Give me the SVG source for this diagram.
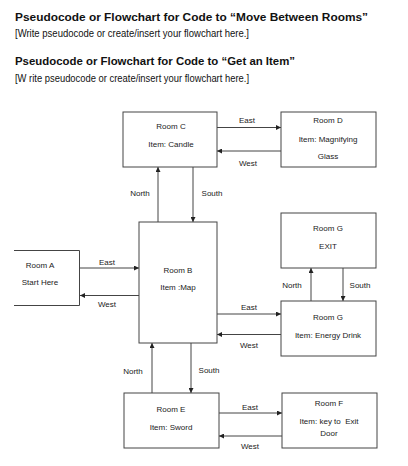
<svg xmlns="http://www.w3.org/2000/svg" width="408" height="466" viewBox="0 0 408 466">
<style>
.h{font-family:"Liberation Sans",Arial,sans-serif;font-size:11.8px;fill:#111}
.b{font-weight:bold}
.t{font-family:"Liberation Sans",Arial,sans-serif;font-size:8px;fill:#222;text-anchor:middle;white-space:pre}
.box{fill:#fff;stroke:#444;stroke-width:1}
.c line{stroke:#444;stroke-width:1;marker-end:url(#ah)}
</style>
<defs>
<marker id="ah" markerUnits="userSpaceOnUse" markerWidth="6" markerHeight="5" refX="5" refY="2.5" orient="auto">
<path d="M0,0 L5,2.5 L0,5 z" fill="#222"/>
</marker>
</defs>
<rect width="408" height="466" fill="#fff"/>
<g id="header">
<text class="h b" x="15" y="21" textLength="353" lengthAdjust="spacingAndGlyphs">Pseudocode or Flowchart for Code to “Move Between Rooms”</text>
<text class="h" x="15" y="36.5" textLength="234" lengthAdjust="spacingAndGlyphs">[Write pseudocode or create/insert your flowchart here.]</text>
<text class="h b" x="15" y="65" textLength="280" lengthAdjust="spacingAndGlyphs">Pseudocode or Flowchart for Code to “Get an Item”</text>
<text class="h" x="15" y="82" textLength="234" lengthAdjust="spacingAndGlyphs">[W rite pseudocode or create/insert your flowchart here.]</text>
</g>
<g id="connectors" class="c">
<line x1="217" y1="127.5" x2="281" y2="127.5"/>
<line x1="281" y1="151" x2="217" y2="151"/>
<line x1="158" y1="222" x2="158" y2="167"/>
<line x1="193" y1="167" x2="193" y2="222"/>
<line x1="80" y1="268" x2="139" y2="268"/>
<line x1="139" y1="295.5" x2="80" y2="295.5"/>
<line x1="217" y1="314" x2="281" y2="314"/>
<line x1="281" y1="334.5" x2="217" y2="334.5"/>
<line x1="311" y1="301" x2="311" y2="268"/>
<line x1="343" y1="268" x2="343" y2="301"/>
<line x1="152" y1="393" x2="152" y2="343"/>
<line x1="191" y1="343" x2="191" y2="393"/>
<line x1="219" y1="413" x2="282" y2="413"/>
<line x1="282" y1="436" x2="219" y2="436"/>
</g>
<g id="connector-labels">
<text class="t" x="247" y="122.5">East</text>
<text class="t" x="248" y="166">West</text>
<text class="t" x="140" y="196">North</text>
<text class="t" x="212" y="196">South</text>
<text class="t" x="107" y="265">East</text>
<text class="t" x="107" y="307">West</text>
<text class="t" x="249" y="310">East</text>
<text class="t" x="249" y="347.5">West</text>
<text class="t" x="292" y="288">North</text>
<text class="t" x="360" y="288">South</text>
<text class="t" x="133" y="373.5">North</text>
<text class="t" x="209" y="372.5">South</text>
<text class="t" x="250" y="410">East</text>
<text class="t" x="250" y="448.5">West</text>
</g>
<g id="roomC">
<rect class="box" x="123" y="112" width="94" height="55"/>
<text class="t" x="171" y="129">Room C</text>
<text class="t" x="171" y="147">Item: Candle</text>
</g>
<g id="roomD">
<rect class="box" x="281" y="112" width="95" height="55"/>
<text class="t" x="328" y="123">Room D</text>
<text class="t" x="328" y="141.5">Item: Magnifying</text>
<text class="t" x="328" y="159">Glass</text>
</g>
<g id="roomA">
<path class="box" d="M14,250.5 H79.5 V305.5 H14" fill="none"/>
<text class="t" x="40" y="267.5">Room A</text>
<text class="t" x="40" y="285">Start Here</text>
</g>
<g id="roomB">
<rect class="box" x="139" y="222" width="78" height="121"/>
<text class="t" x="178" y="272.5">Room B</text>
<text class="t" x="178" y="290">Item :Map</text>
</g>
<g id="roomG-exit">
<rect class="box" x="281" y="213" width="95" height="55"/>
<text class="t" x="328" y="231">Room G</text>
<text class="t" x="328" y="249">EXIT</text>
</g>
<g id="roomG-drink">
<rect class="box" x="281" y="301" width="95" height="55"/>
<text class="t" x="328" y="319.5">Room G</text>
<text class="t" x="328" y="337.5">Item: Energy Drink</text>
</g>
<g id="roomE">
<rect class="box" x="124" y="393" width="95" height="55"/>
<text class="t" x="171" y="412">Room E</text>
<text class="t" x="171" y="429.5">Item: Sword</text>
</g>
<g id="roomF">
<rect class="box" x="282" y="393" width="95" height="55"/>
<text class="t" x="329" y="406">Room F</text>
<text class="t" x="329" y="424">Item: key to  Exit</text>
<text class="t" x="329" y="436">Door</text>
</g>
</svg>
